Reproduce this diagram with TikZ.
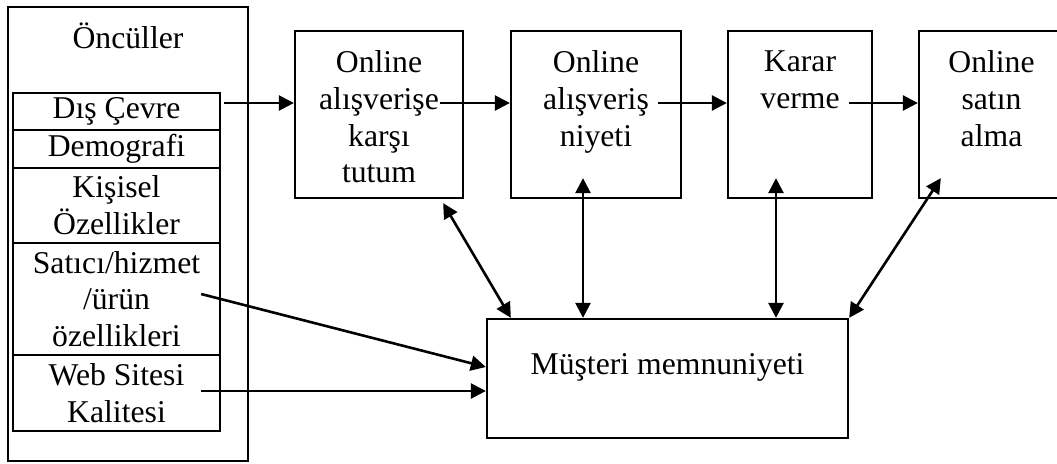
\documentclass[tikz,border=0pt]{standalone}
\usepackage{fontspec}
\setmainfont{Liberation Serif}
\usetikzlibrary{arrows.meta,positioning,calc}

\begin{document}
\begin{tikzpicture}[x = 1pt, y = -1pt, font = \fontsize{31.7pt}{36.7pt}\selectfont,
  cell/.style = {draw, line width = 2.3pt, inner sep = 0pt, align = center, minimum width = 207pt},
  stage/.style = {draw, line width = 2.3pt, inner sep = 0pt, minimum height = 167pt},
  txt/.style = {inner sep = 0pt, align = center},
  arr/.style = {line width = 2.6pt, -{Triangle[length = 15pt, width = 15pt]}},
  biarr/.style = {line width = 2.6pt, {Triangle[length = 15pt, width = 15pt]}-{Triangle[length = 15pt, width = 15pt]}}]
\useasboundingbox (0, 0) rectangle (1057, 463);
\node[draw, line width = 1.7pt, minimum width = 240pt, minimum height = 454pt] (outer) at (128, 234) {};
\node[txt, anchor = base] (oncul) at (128, 48) {Öncüller};
\node[cell, minimum height = 37pt] (dis) at (116.5, 111.5) {Dış Çevre};
\node[cell, minimum height = 38pt] (demo) at (116.5, 149) {Demografi};
\node[cell, minimum height = 75pt] (kisi) at (116.5, 205.5) {Kişisel\\Özellikler};
\node[cell, minimum height = 112pt] (sat) at (116.5, 299) {Satıcı/hizmet\\/ürün\\özellikleri};
\node[cell, minimum height = 76pt] (web) at (116.5, 393) {Web Sitesi\\Kalitesi};
\node[stage, minimum width = 168pt] (box1) at (379, 114.5) {};
\node[stage, minimum width = 170pt] (box2) at (596, 114.5) {};
\node[stage, minimum width = 144pt] (box3) at (800, 114.5) {};
\node[stage, minimum width = 145pt] (box4) at (991.5, 114.5) {};
\node[txt, anchor = north] (t1) at (379, 50.5) {Online\\alışverişe\\karşı\\tutum};
\node[txt, anchor = north] (t2) at (596, 50.5) {Online\\alışveriş\\niyeti};
\node[txt, anchor = north] (t3) at (800, 50.5) {Karar\\verme};
\node[txt, anchor = north] (t4) at (991.5, 50.5) {Online\\satın\\alma};
\node[draw, line width = 2.3pt, minimum width = 361pt, minimum height = 119pt] (mm) at (667.5, 378.5) {};
\node[txt, anchor = base] (mmt) at (667.5, 374) {Müşteri memnuniyeti};
\draw[arr] ([xshift = 3pt, yshift = 8.5pt]dis.east) -- ([yshift = 11.5pt]box1.west);
\draw[arr] ([xshift = -24pt, yshift = 11.5pt]box1.east) -- ([yshift = 11.5pt]box2.west);
\draw[arr] ([xshift = -24pt, yshift = 11.5pt]box2.east) -- ([yshift = 11.5pt]box3.west);
\draw[arr] ([xshift = -24pt, yshift = 11.5pt]box3.east) -- ([yshift = 11.5pt]box4.west);
\draw[biarr] ([xshift = -21pt, yshift = -4pt]box1.south east) -- ([xshift = 25pt]mm.north west);
\draw[biarr] ([xshift = -13pt, yshift = 21pt]box2.south) -- ([xshift = -84.5pt]mm.north);
\draw[biarr] ([xshift = -24pt, yshift = 21pt]box3.south) -- ([xshift = 108.5pt]mm.north);
\draw[biarr] ([xshift = 23pt, yshift = 21pt]box4.south west) -- (mm.north east);
\draw[arr] ([xshift = -20pt, yshift = 5pt]sat.east) -- ([yshift = 11.5pt]mm.west);
\draw[arr] ([xshift = -20pt, yshift = 2pt]web.east) -- ([yshift = -12.5pt]mm.west);
\end{tikzpicture}
\end{document}
